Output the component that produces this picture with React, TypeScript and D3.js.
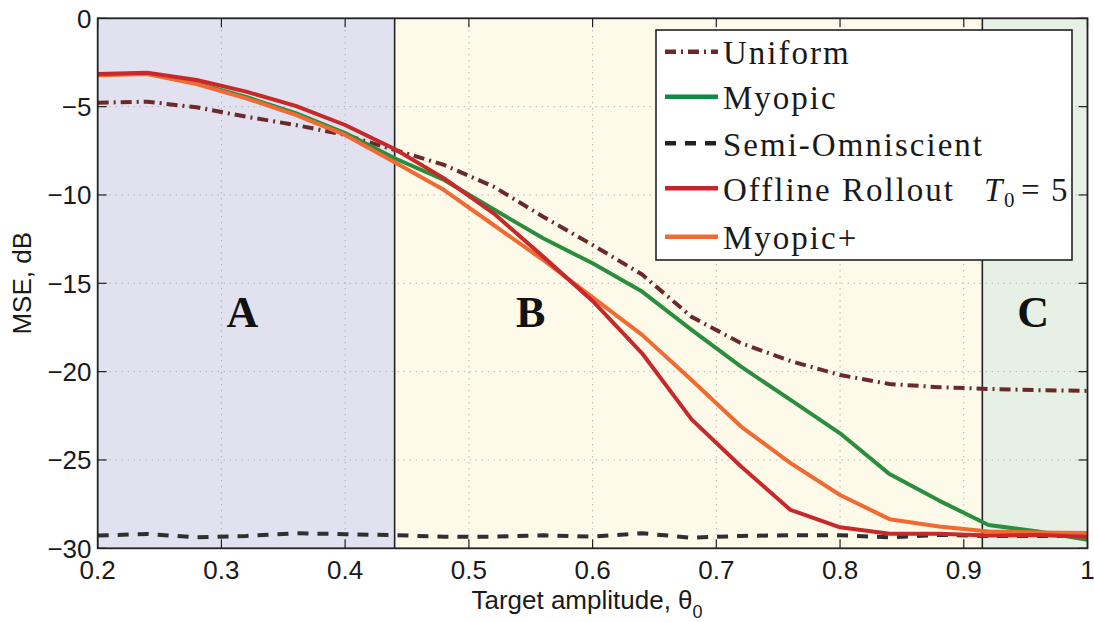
import React from "react";
import * as d3 from "d3";

const theta = [0.2, 0.24, 0.28, 0.32, 0.36, 0.4, 0.44, 0.48, 0.52, 0.56, 0.6, 0.64, 0.68, 0.72, 0.76, 0.8, 0.84, 0.88, 0.92, 0.96, 1.0];
const uniform = [-4.78, -4.72, -5.04, -5.57, -6.04, -6.6, -7.45, -8.3, -9.53, -11.23, -12.83, -14.5, -16.9, -18.39, -19.4, -20.19, -20.7, -20.88, -20.98, -21.05, -21.09];
const myopic = [-3.2, -3.12, -3.68, -4.45, -5.37, -6.5, -7.92, -9.15, -10.81, -12.45, -13.87, -15.47, -17.64, -19.72, -21.6, -23.49, -25.8, -27.3, -28.68, -29.05, -29.52];
const semiOmniscient = [-29.28, -29.19, -29.38, -29.3, -29.15, -29.2, -29.26, -29.34, -29.34, -29.26, -29.34, -29.15, -29.4, -29.3, -29.26, -29.26, -29.38, -29.24, -29.3, -29.3, -29.3];
const offlineRollout = [-3.15, -3.08, -3.49, -4.15, -4.96, -6.04, -7.4, -9.06, -11.04, -13.49, -16.0, -18.96, -22.7, -25.37, -27.83, -28.81, -29.18, -29.18, -29.28, -29.25, -29.34];
const myopicPlus = [-3.23, -3.15, -3.72, -4.53, -5.47, -6.6, -8.15, -9.72, -11.7, -13.68, -15.8, -17.92, -20.47, -23.11, -25.18, -26.98, -28.35, -28.77, -29.05, -29.1, -29.14];

const xTicks = [0.2, 0.3, 0.4, 0.5, 0.6, 0.7, 0.8, 0.9, 1];
const yTicks = [0, -5, -10, -15, -20, -25, -30];
const regionBounds = [0.2, 0.44, 0.915, 1.0];
const regionNames = ["A", "B", "C"];
const regionLabelTheta = [0.317, 0.55, 0.956];
const regionLabelY = -17.5;
const regionColors = ["#E1E1EF", "#FDFAEA", "#E6F0E4"];

const series = [
  { name: "Uniform", data: uniform, color: "#6A2A2A", dash: "11 5 2 5" },
  { name: "Myopic", data: myopic, color: "#2A8E3E", dash: null },
  { name: "Semi-Omniscient", data: semiOmniscient, color: "#2F2F2F", dash: "11 9" },
  { name: "Offline Rollout", data: offlineRollout, color: "#C9282B", dash: null },
  { name: "Myopic+", data: myopicPlus, color: "#F06A32", dash: null },
];
const drawOrder = [0, 2, 1, 4, 3];
const legendColors = ["#6A2A2A", "#0E8A45", "#222222", "#CC2229", "#F06A32"];

export default function App() {
  const L = 97.7, R = 1087.5, T = 18.3, B = 548.3;
  const x = d3.scaleLinear().domain([0.2, 1]).range([L, R]);
  const y = d3.scaleLinear().domain([-30, 0]).range([B, T]);
  const line = (vals: number[]) =>
    d3.line<number>().x((_, i) => x(theta[i])).y((d) => y(d))(vals) || "";
  const fmtY = (v: number) => (v < 0 ? "\u2212" + Math.abs(v) : String(v));
  const tickLen = 9;
  const sans = "'Liberation Sans', Arial, sans-serif";
  const serif = "'Liberation Serif', 'Times New Roman', serif";

  const legX0 = 656, legX1 = 1072, legY0 = 30, legY1 = 260;
  const legRows = [51.7, 96.7, 143.3, 188.3, 236.7];
  const legFont = 33;

  return (
    <svg width={1094} height={622} style={{ position: "absolute", left: 0, top: 0, background: "#fff" }}>
      <defs>
        <clipPath id="plotclip">
          <rect x={L} y={T} width={R - L} height={B - T} />
        </clipPath>
      </defs>
      {regionNames.map((n, i) => (
        <rect key={n} x={x(regionBounds[i])} y={T} width={x(regionBounds[i + 1]) - x(regionBounds[i])} height={B - T} fill={regionColors[i]} />
      ))}
      {xTicks.slice(1, -1).map((t) => (
        <line key={"gx" + t} x1={x(t)} x2={x(t)} y1={T} y2={B} stroke="#9a9a9a" strokeWidth={1} strokeDasharray="1 5" />
      ))}
      {yTicks.slice(1, -1).map((t) => (
        <line key={"gy" + t} x1={L} x2={R} y1={y(t)} y2={y(t)} stroke="#9a9a9a" strokeWidth={1} strokeDasharray="1 5" />
      ))}
      {[regionBounds[1], regionBounds[2]].map((b) => (
        <line key={"rb" + b} x1={x(b)} x2={x(b)} y1={T} y2={B} stroke="#222" strokeWidth={1.6} />
      ))}
      <g clipPath="url(#plotclip)">
        {drawOrder.map((k) => {
          const s = series[k];
          return (
            <path key={s.name} d={line(s.data)} fill="none" stroke={s.color} strokeWidth={4}
              strokeDasharray={s.dash || undefined} strokeLinejoin="round" />
          );
        })}
      </g>
      {regionNames.map((n, i) => (
        <text key={"lab" + n} x={x(regionLabelTheta[i])} y={y(regionLabelY)}
          textAnchor="middle" fontFamily={serif} fontWeight="bold" fontSize={44} fill="#111">{n}</text>
      ))}
      <rect x={L} y={T} width={R - L} height={B - T} fill="none" stroke="#222" strokeWidth={1.8} />
      {xTicks.map((t) => (
        <g key={"xt" + t}>
          <line x1={x(t)} x2={x(t)} y1={B} y2={B - tickLen} stroke="#222" strokeWidth={1.2} />
          <line x1={x(t)} x2={x(t)} y1={T} y2={T + tickLen} stroke="#222" strokeWidth={1.2} />
          <text x={x(t)} y={578.5} textAnchor="middle" fontFamily={sans} fontSize={26} fill="#1a1a1a">{String(t)}</text>
        </g>
      ))}
      {yTicks.map((t) => (
        <g key={"yt" + t}>
          <line x1={L} x2={L + tickLen} y1={y(t)} y2={y(t)} stroke="#222" strokeWidth={1.2} />
          <line x1={R} x2={R - tickLen} y1={y(t)} y2={y(t)} stroke="#222" strokeWidth={1.2} />
          <text x={91.5} y={y(t) + 9.5} textAnchor="end" fontFamily={sans} fontSize={26} fill="#1a1a1a">{fmtY(t)}</text>
        </g>
      ))}
      <text x={587} y={609} textAnchor="middle" fontFamily={sans} fontSize={26} fill="#1a1a1a">
        Target amplitude, θ<tspan dy={9} fontSize={18}>0</tspan>
      </text>
      <text transform={`translate(31,${(T + B) / 2}) rotate(-90)`} textAnchor="middle" fontFamily={sans} fontSize={26} fill="#1a1a1a">MSE, dB</text>

      <rect x={legX0} y={legY0} width={legX1 - legX0} height={legY1 - legY0} fill="#fff" stroke="#222" strokeWidth={1.6} />
      {series.map((s, i) => (
        <g key={"leg" + s.name}>
          <line x1={665} x2={718} y1={legRows[i]} y2={legRows[i]} stroke={legendColors[i]} strokeWidth={4.5}
            strokeDasharray={s.dash || undefined} />
          {i === 3 ? (
            <>
              <text x={723} y={legRows[i] + 12.5} fontFamily={serif} fontSize={legFont} fill="#1a1a1a" letterSpacing={2}>{s.name}</text>
              <text x={984} y={legRows[i] + 12.5} fontFamily={serif} fontSize={legFont} fill="#1a1a1a" fontStyle="italic">T</text>
              <text x={1004} y={legRows[i] + 19} fontFamily={serif} fontSize={21} fill="#1a1a1a">0</text>
              <text x={1021} y={legRows[i] + 12.5} fontFamily={serif} fontSize={legFont} fill="#1a1a1a">=</text>
              <text x={1051} y={legRows[i] + 12.5} fontFamily={serif} fontSize={legFont} fill="#1a1a1a">5</text>
            </>
          ) : (
            <text x={723} y={legRows[i] + 12.5} fontFamily={serif} fontSize={legFont} fill="#1a1a1a" letterSpacing={2}>{s.name}</text>
          )}
        </g>
      ))}
    </svg>
  );
}
